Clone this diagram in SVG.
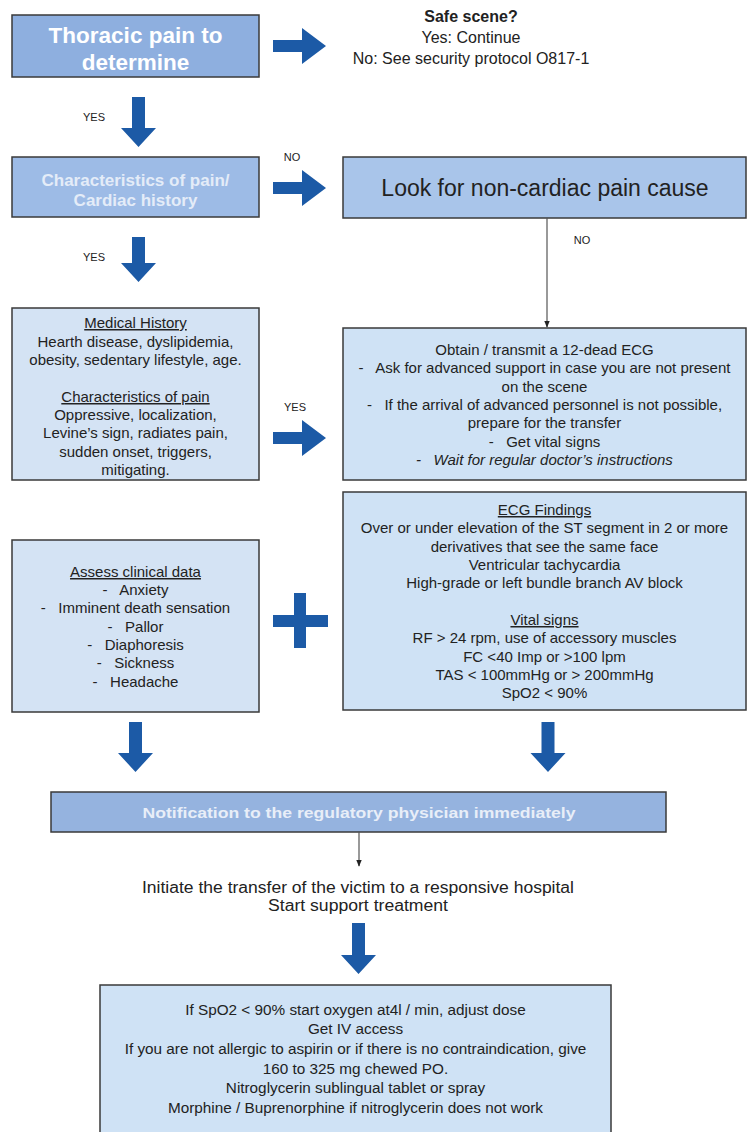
<svg xmlns="http://www.w3.org/2000/svg" width="748" height="1132" viewBox="0 0 748 1132">
<defs>
<style>
text{font-family:"Liberation Sans",Arial,sans-serif;fill:#222;text-anchor:middle;white-space:pre}
.box{stroke:#3a3a3a;stroke-width:1.5}
.dark{fill:#8eafdf}
.mid{fill:#9dbbe6}
.lite{fill:#d4e3f4}
.t15{font-size:15px}
.t14{font-size:15.3px}
.lbl{font-size:11px}
.u{text-decoration:underline}
.big{fill:#1c5aa6}
.thin{stroke:#555;stroke-width:1.2;fill:none}
</style>
<marker id="ah" viewBox="0 0 10 10" refX="9" refY="5" markerWidth="7" markerHeight="7" orient="auto" markerUnits="userSpaceOnUse">
<path d="M0,1 L10,5 L0,9 Z" fill="#222"/>
</marker>
</defs>
<rect width="748" height="1132" fill="#fff"/>

<g id="n1">
<rect class="box dark" x="12" y="15" width="247" height="62"/>
<text x="135.5" y="43" style="font-size:22.5px;font-weight:bold;fill:#fff">Thoracic pain to</text>
<text x="135.5" y="70" style="font-size:22.5px;font-weight:bold;fill:#fff">determine</text>
</g>

<g id="safe">
<text x="471" y="22" style="font-size:16px;font-weight:bold">Safe scene?</text>
<text x="471" y="43" style="font-size:16px">Yes: Continue</text>
<text x="471" y="64" style="font-size:16px">No: See security protocol O817-1</text>
</g>

<g id="n2">
<rect class="box mid" x="12" y="157" width="247" height="60"/>
<text x="135.5" y="186" style="font-size:17px;font-weight:bold;fill:#e4ecf8">Characteristics of pain/</text>
<text x="135.5" y="206" style="font-size:17px;font-weight:bold;fill:#e4ecf8">Cardiac history</text>
</g>

<g id="n3">
<rect class="box" x="343" y="157" width="403" height="61" fill="#a9c5ea"/>
<text x="545" y="196" style="font-size:23px">Look for non-cardiac pain cause</text>
</g>

<g id="n4">
<rect class="box lite" x="12" y="308" width="247" height="172"/>
<text class="t15 u" x="135.5" y="328">Medical History</text>
<text class="t15" x="135.5" y="347">Hearth disease, dyslipidemia,</text>
<text class="t15" x="135.5" y="365">obesity, sedentary lifestyle, age.</text>
<text class="t15 u" x="135.5" y="402">Characteristics of pain</text>
<text class="t15" x="135.5" y="420">Oppressive, localization,</text>
<text class="t15" x="135.5" y="438">Levine’s sign, radiates pain,</text>
<text class="t15" x="135.5" y="457">sudden onset, triggers,</text>
<text class="t15" x="135.5" y="475">mitigating.</text>
</g>

<g id="n5">
<rect class="box" x="343" y="328" width="403" height="152" fill="#cfe2f5"/>
<text class="t15" x="544.5" y="355">Obtain / transmit a 12-dead ECG</text>
<text class="t15" x="544.5" y="373">-   Ask for advanced support in case you are not present</text>
<text class="t15" x="544.5" y="392">on the scene</text>
<text class="t15" x="544.5" y="410">-   If the arrival of advanced personnel is not possible,</text>
<text class="t15" x="544.5" y="428">prepare for the transfer</text>
<text class="t15" x="544.5" y="447">-   Get vital signs</text>
<text class="t15" x="544.5" y="465" style="font-style:italic">-   Wait for regular doctor’s instructions</text>
</g>

<g id="n6">
<rect class="box" x="343" y="492" width="403" height="218" fill="#cfe2f5"/>
<text class="t15 u" x="544.5" y="515">ECG Findings</text>
<text class="t15" x="544.5" y="533">Over or under elevation of the ST segment in 2 or more</text>
<text class="t15" x="544.5" y="552">derivatives that see the same face</text>
<text class="t15" x="544.5" y="570">Ventricular tachycardia</text>
<text class="t15" x="544.5" y="588">High-grade or left bundle branch AV block</text>
<text class="t15 u" x="544.5" y="625">Vital signs</text>
<text class="t15" x="544.5" y="643">RF &gt; 24 rpm, use of accessory muscles</text>
<text class="t15" x="544.5" y="662">FC &lt;40 Imp or &gt;100 lpm</text>
<text class="t15" x="544.5" y="680">TAS &lt; 100mmHg or &gt; 200mmHg</text>
<text class="t15" x="544.5" y="698">SpO2 &lt; 90%</text>
</g>

<g id="n7">
<rect class="box lite" x="12" y="540" width="247" height="172"/>
<text class="t15 u" x="135.5" y="577">Assess clinical data</text>
<text class="t15" x="135.5" y="595">-   Anxiety</text>
<text class="t15" x="135.5" y="613">-   Imminent death sensation</text>
<text class="t15" x="135.5" y="632">-   Pallor</text>
<text class="t15" x="135.5" y="650">-   Diaphoresis</text>
<text class="t15" x="135.5" y="668">-   Sickness</text>
<text class="t15" x="135.5" y="687">-   Headache</text>
</g>

<g id="plus">
<rect class="big" x="273" y="615" width="55" height="12"/>
<rect class="big" x="294" y="593" width="12" height="55"/>
</g>

<g id="n8">
<rect class="box" x="51" y="792" width="615" height="40" fill="#95b3df"/>
<text x="359" y="818" textLength="433" lengthAdjust="spacingAndGlyphs" style="font-size:15px;font-weight:bold;fill:#e8eef8">Notification to the regulatory physician immediately</text>
</g>

<g id="n9">
<text x="358" y="893" textLength="432" lengthAdjust="spacingAndGlyphs" style="font-size:16px">Initiate the transfer of the victim to a responsive hospital</text>
<text x="358" y="911" textLength="180" lengthAdjust="spacingAndGlyphs" style="font-size:16px">Start support treatment</text>
</g>

<g id="n10">
<rect class="box" x="100" y="985" width="511" height="160" fill="#cfe2f5"/>
<text class="t14" x="355.5" y="1015">If SpO2 &lt; 90% start oxygen at4l / min, adjust dose</text>
<text class="t14" x="355.5" y="1034">Get IV access</text>
<text class="t14" x="355.5" y="1054">If you are not allergic to aspirin or if there is no contraindication, give</text>
<text class="t14" x="355.5" y="1074">160 to 325 mg chewed PO.</text>
<text class="t14" x="355.5" y="1093">Nitroglycerin sublingual tablet or spray</text>
<text class="t14" x="355.5" y="1113">Morphine / Buprenorphine if nitroglycerin does not work</text>
</g>

<g id="connectors">
<path class="big" d="M273,40 H302 V28 L326,46 L302,64 V52 H273 Z"/>
<path class="big" d="M273,182 H302 V170 L326,188 L302,206 V194 H273 Z"/>
<path class="big" d="M273,432 H302 V420 L326,438 L302,456 V444 H273 Z"/>
<path class="big" d="M132,97 H145 V128 H156 L138.5,147 L121,128 H132 Z"/>
<path class="big" d="M132,237 H145 V263 H156 L138.5,282 L121,263 H132 Z"/>
<path class="big" d="M129,722 H142 V753 H153 L135.5,772 L118,753 H129 Z"/>
<path class="big" d="M541.5,722 H554.5 V753 H565.5 L548,772 L530.5,753 H541.5 Z"/>
<path class="big" d="M352,923 H365 V955 H376 L358.5,974 L341,955 H352 Z"/>
<line class="thin" x1="547" y1="218" x2="547" y2="327" marker-end="url(#ah)"/>
<line class="thin" x1="359" y1="832" x2="359" y2="866" marker-end="url(#ah)"/>
<text class="lbl" x="94" y="121">YES</text>
<text class="lbl" x="94" y="261">YES</text>
<text class="lbl" x="292" y="161">NO</text>
<text class="lbl" x="582" y="244">NO</text>
<text class="lbl" x="295" y="411">YES</text>
</g>
</svg>
